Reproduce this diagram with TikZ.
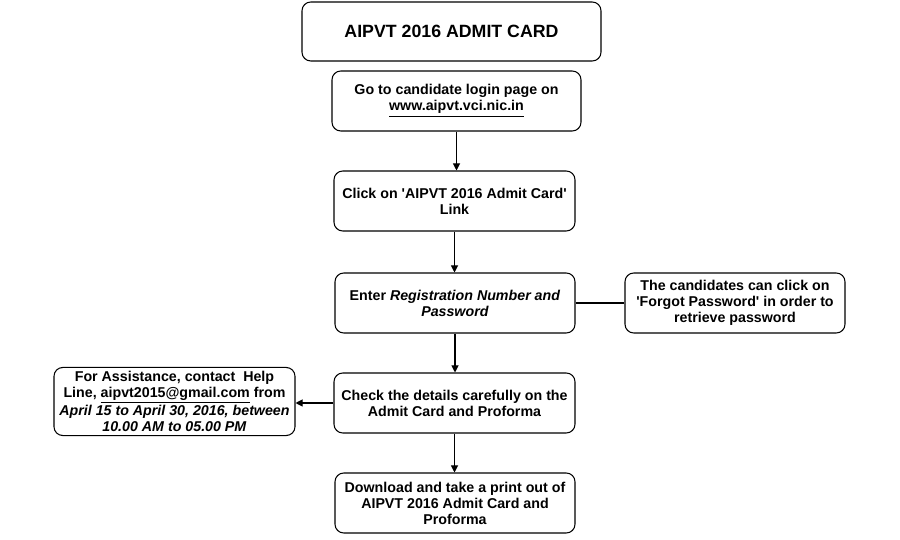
\documentclass[tikz,border=0pt]{standalone}
\usepackage{fontspec}
\setmainfont{Liberation Sans}[Ligatures=TeXOff]
\usetikzlibrary{arrows.meta}

\begin{document}
\begin{tikzpicture}[
        box/.style={
            rectangle,
            rounded corners=5pt,
            draw,
            line width=0.6pt,
            align=center,
            minimum width=4.82cm,
            minimum height=1.2cm,
            font=\fontsize{8.1}{9.1}\selectfont\bfseries,
            inner sep=2pt
        },
        titlebox/.style={
            box,
            minimum width=5.98cm,
            minimum height=1.18cm,
            font=\fontsize{10.1}{11}\selectfont\bfseries
        },
        arrow/.style={-{Triangle[length=4pt,width=4pt]}, line width=0.6pt},
        link/.style={line width=0.6pt}
    ]

        \useasboundingbox (0,0) rectangle (18,-10.8);

        \node[titlebox] (title) at (9.03,-0.63) {AIPVT 2016 ADMIT CARD};
        \node[box, minimum width=4.98cm] (login) at (9.13,-2.02) {Go to candidate login page on\\\underline{www.aipvt.vci.nic.in}};
        \node[box] (click) at (9.09,-4.02) {Click on 'AIPVT 2016 Admit Card'\\Link};
        \node[box, minimum width=4.80cm] (enter) at (9.10,-6.06) {Enter \textit{Registration Number and}\\\textit{Password}};
        \node[box, minimum width=4.40cm] (forgot) at (14.70,-6.06) {The candidates can click on\\'Forgot Password' in order to\\retrieve password};
        \node[box] (check) at (9.09,-8.06) {Check the details carefully on the\\Admit Card and Proforma};
        \node[box, minimum height=1.26cm] (help) at (3.49,-8.03) {For Assistance, contact\ \ Help\\Line, \underline{aipvt2015@gmail.com} from\\\textit{April 15 to April 30, 2016, between}\\\textit{10.00 AM to 05.00 PM}};
        \node[box, minimum width=4.80cm] (print) at (9.10,-10.06) {Download and take a print out of\\AIPVT 2016 Admit Card and\\Proforma};

        \draw[arrow] (login.south) -- (login.south |- click.north);
        \draw[arrow] (click.south) -- (click.south |- enter.north);
        \draw[arrow] (enter.south) -- (enter.south |- check.north);
        \draw[arrow] (check.south) -- (check.south |- print.north);
        \draw[link] (enter.east) -- (forgot.west);
        \draw[arrow] (check.west) -- (help.east |- check.west);

    \end{tikzpicture}
\end{document}
